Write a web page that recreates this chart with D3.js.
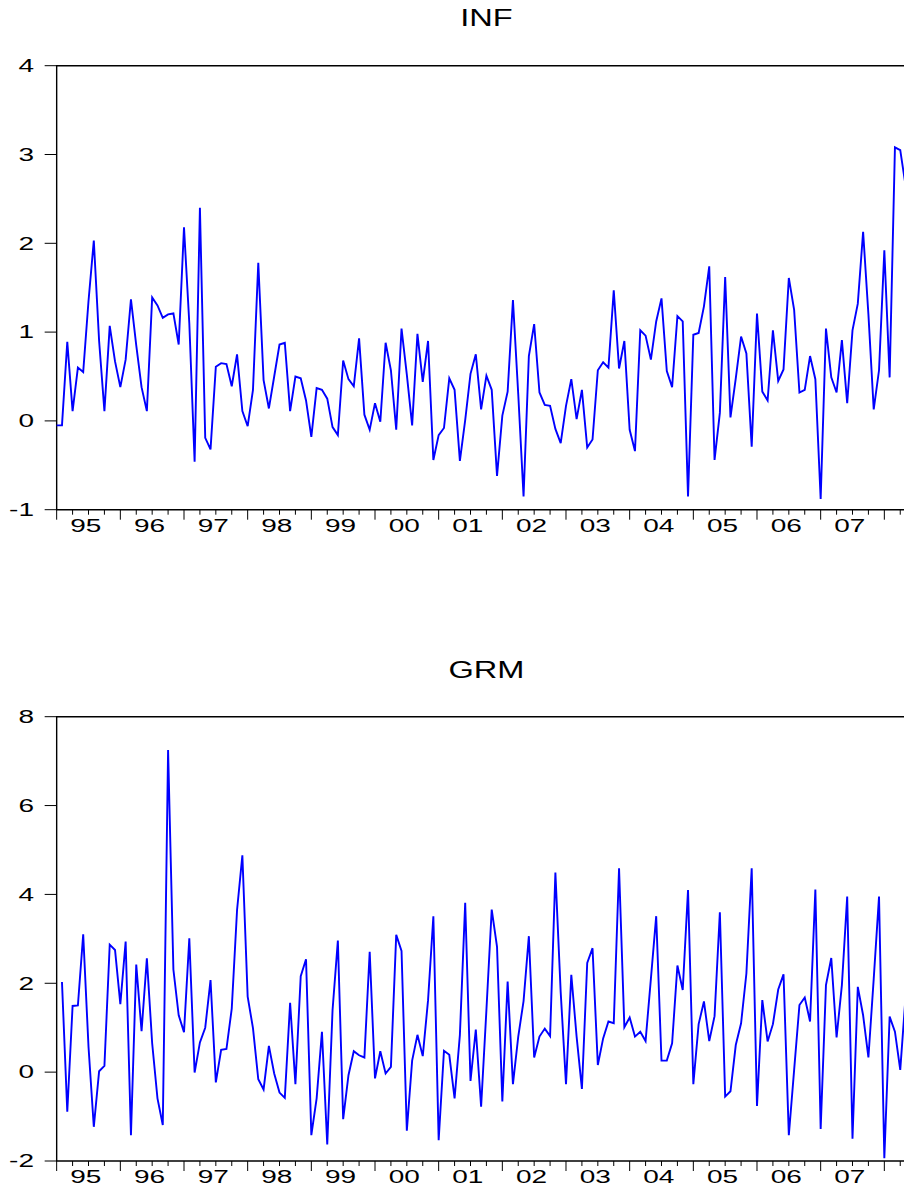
<!DOCTYPE html>
<html><head><meta charset="utf-8">
<script src="https://cdn.jsdelivr.net/npm/d3@7"></script>
<style>
body{margin:0;background:#fff}
svg text{font-family:"Liberation Sans",Arial,sans-serif;fill:#000}
</style>
</head><body>
<svg id="chart" width="904" height="1198"></svg>
<script>
// ---- data (monthly observations, index 0 = Jan 1995) ----
const yearLabels = ["95","96","97","98","99","00","01","02","03","04","05","06","07"];
const titles = ["INF","GRM"];
const infTicks = [-1,0,1,2,3,4];
const grmTicks = [-2,0,2,4,6,8];

const infValues = [
 -0.05,-0.05,0.89,0.11,0.60,0.55,1.35,2.03,0.90,0.11,1.07,0.67,
 0.38,0.69,1.37,0.85,0.38,0.11,1.39,1.30,1.16,1.20,1.21,0.86,
 2.18,1.10,-0.46,2.40,-0.19,-0.32,0.61,0.65,0.64,0.39,0.75,0.11,
 -0.06,0.35,1.78,0.46,0.14,0.50,0.86,0.88,0.11,0.50,0.48,0.23,
 -0.18,0.37,0.35,0.25,-0.07,-0.16,0.68,0.47,0.39,0.93,0.07,-0.10,
 0.20,-0.01,0.88,0.57,-0.10,1.04,0.52,-0.05,0.98,0.44,0.90,-0.44,
 -0.16,-0.08,0.48,0.35,-0.45,0.01,0.53,0.75,0.13,0.51,0.35,-0.62,
 0.06,0.33,1.36,0.30,-0.85,0.73,1.09,0.32,0.18,0.17,-0.09,-0.25,
 0.17,0.47,0.02,0.35,-0.30,-0.21,0.57,0.66,0.60,1.47,0.59,0.90,
 -0.10,-0.34,1.02,0.96,0.69,1.12,1.38,0.56,0.38,1.18,1.12,-0.85,
 0.97,0.99,1.29,1.74,-0.44,0.09,1.62,0.04,0.48,0.95,0.76,-0.29,
 1.21,0.33,0.23,1.02,0.45,0.58,1.61,1.25,0.32,0.35,0.73,0.47,
 -0.88,1.04,0.49,0.32,0.91,0.20,1.02,1.32,2.13,1.20,0.13,0.57,
 1.92,0.49,3.08,3.05,2.65
];

const grmValues = [
 null,2.03,-0.89,1.49,1.50,3.10,0.57,-1.23,0.02,0.14,2.87,2.75,
 1.53,2.94,-1.42,2.42,0.92,2.56,0.65,-0.59,-1.19,7.25,2.31,1.28,
 0.90,3.01,-0.01,0.67,1.00,2.07,-0.23,0.50,0.52,1.43,3.65,4.88,
 1.70,0.99,-0.16,-0.39,0.59,-0.03,-0.46,-0.58,1.56,-0.27,2.16,2.54,
 -1.42,-0.59,0.91,-1.63,1.40,2.96,-1.06,-0.07,0.47,0.38,0.33,2.71,
 -0.14,0.47,-0.03,0.12,3.09,2.73,-1.32,0.26,0.84,0.36,1.62,3.51,
 -1.53,0.48,0.39,-0.59,0.84,3.81,-0.20,0.96,-0.78,1.40,3.66,2.82,
 -0.66,2.04,-0.27,0.80,1.60,3.06,0.33,0.80,0.98,0.81,4.49,1.80,
 -0.27,2.19,0.80,-0.38,2.46,2.79,0.16,0.76,1.14,1.10,4.59,1.01,
 1.23,0.80,0.91,0.70,2.10,3.51,0.26,0.26,0.65,2.40,1.85,4.10,
 -0.27,1.08,1.59,0.70,1.26,3.60,-0.55,-0.43,0.61,1.10,2.22,4.59,
 -0.76,1.62,0.69,1.08,1.86,2.20,-1.42,0.05,1.51,1.68,1.14,4.11,
 -1.28,1.96,2.57,0.78,1.96,3.95,-1.50,1.92,1.28,0.33,2.10,3.95,
 -1.94,1.25,0.91,0.05,1.70
];

// ---- layout ----
const svg = d3.select("#chart");
const x = d3.scaleLinear().domain([0, 156]).range([56.67, 884.33]);
const left = x(0), right = x(162);

const panels = [
  {title: titles[0], values: infValues, ticks: infTicks, top: 65.7, bottom: 509.7, titleY: 26, labelY: 532},
  {title: titles[1], values: grmValues, ticks: grmTicks, top: 716.7, bottom: 1161, titleY: 678, labelY: 1183}
];

const tickLabelSize = 17.5, tickLabelScale = 1.6;
const titleSize = 24.5, titleScale = 1.33;

panels.forEach(p => {
  const y = d3.scaleLinear()
    .domain([p.ticks[0], p.ticks[p.ticks.length - 1]])
    .range([p.bottom, p.top]);
  const g = svg.append("g");

  // title
  g.append("g")
    .attr("transform", `translate(${(left + right) / 2},${p.titleY}) scale(${titleScale},1)`)
    .append("text")
    .attr("text-anchor", "middle")
    .attr("font-size", titleSize)
    .text(p.title);

  // y ticks and labels
  const yt = g.selectAll(".yt").data(p.ticks).enter().append("g")
    .attr("transform", d => `translate(0,${y(d)})`);
  yt.append("line")
    .attr("x1", left - 12).attr("x2", left)
    .attr("stroke", "#000").attr("stroke-width", 1);
  yt.append("g")
    .attr("transform", `translate(34,0) scale(${tickLabelScale},1)`)
    .append("text")
    .attr("text-anchor", "end")
    .attr("dy", "0.36em")
    .attr("font-size", tickLabelSize)
    .text(d => d);

  // x ticks (quarterly minor, yearly major)
  const xTicks = d3.range(0, 160, 3);
  g.selectAll(".xt").data(xTicks).enter().append("line")
    .attr("x1", d => x(d)).attr("x2", d => x(d))
    .attr("y1", p.bottom)
    .attr("y2", d => p.bottom + (d % 12 === 0 ? 10 : 5))
    .attr("stroke", "#000").attr("stroke-width", 1);

  // year labels centred on each year's months
  g.selectAll(".xl").data(yearLabels).enter().append("g")
    .attr("transform", (d, k) => `translate(${x(k * 12 + 5.5)},${p.labelY}) scale(${tickLabelScale},1)`)
    .append("text")
    .attr("text-anchor", "middle")
    .attr("font-size", tickLabelSize)
    .text(d => d);

  // frame (right edge lies outside the picture)
  g.append("path")
    .attr("d", `M${right},${p.top}H${left}V${p.bottom}H${right}`)
    .attr("fill", "none").attr("stroke", "#000").attr("stroke-width", 1.4);

  // series line
  const line = d3.line()
    .defined(d => d !== null)
    .x((d, i) => x(i))
    .y(d => y(d));
  g.append("path")
    .datum(p.values)
    .attr("d", line)
    .attr("fill", "none")
    .attr("stroke", "#0000ff")
    .attr("stroke-width", 1.9)
    .attr("stroke-linejoin", "miter");
});
</script>
</body></html>
